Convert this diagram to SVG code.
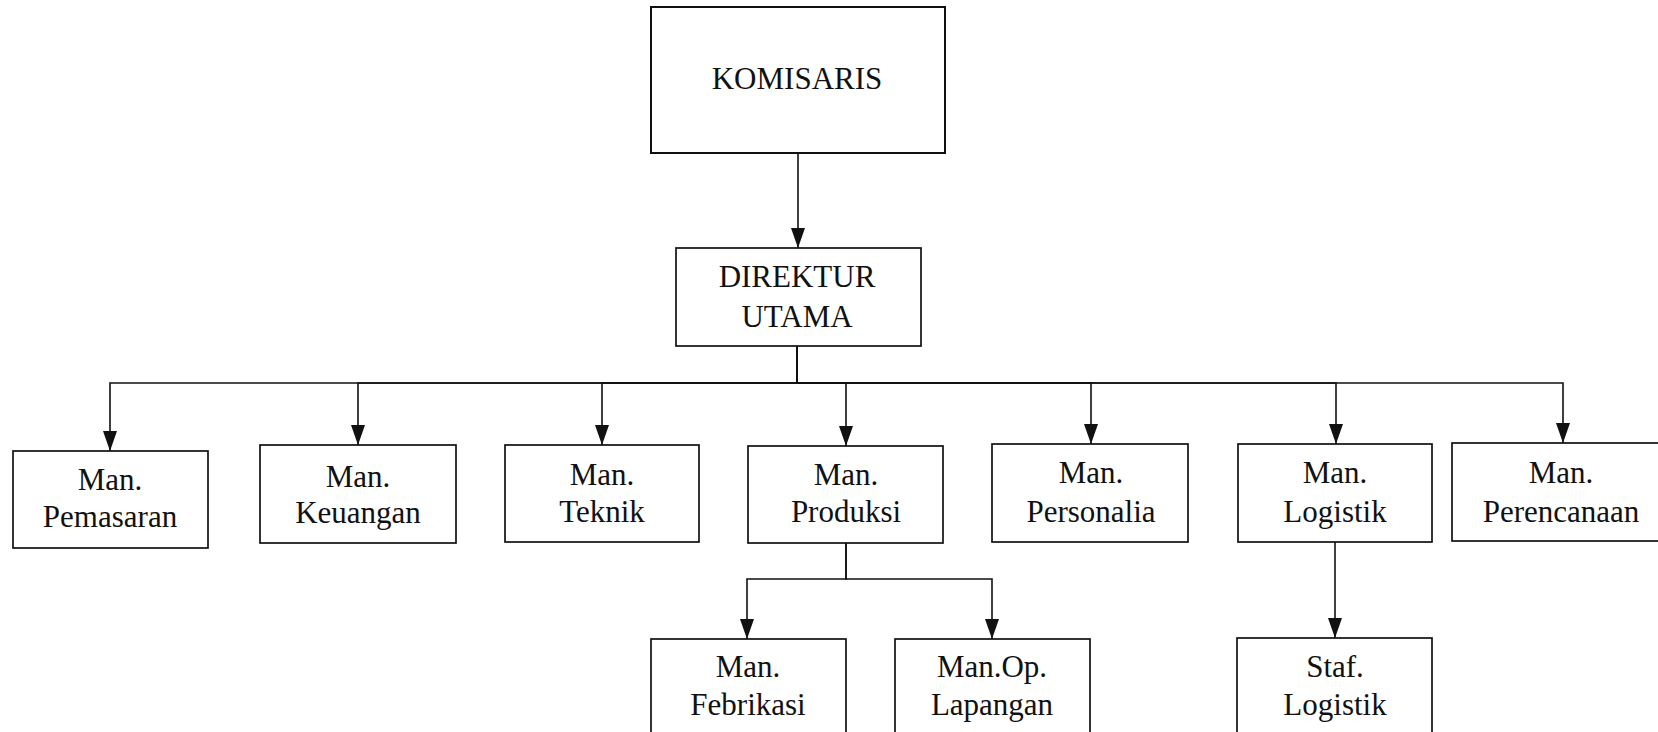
<svg xmlns="http://www.w3.org/2000/svg" width="1658" height="732" viewBox="0 0 1658 732">
<style>
  .box { fill: #ffffff; stroke: #111111; stroke-width: 1.7; }
  .t { font-family: "Liberation Serif", "Times New Roman", serif; font-size: 31px; fill: #111111; text-anchor: middle; }
  .c { fill: none; stroke: #111111; stroke-width: 1.6; }
</style>
<defs>
  <marker id="arr" viewBox="0 0 20 14" refX="20" refY="7" markerWidth="20" markerHeight="14" markerUnits="userSpaceOnUse" orient="auto">
    <path d="M0,0 L20,7 L0,14 z" fill="#111111"/>
  </marker>
</defs>
<rect width="1658" height="732" fill="#ffffff"/>

<g id="connectors">
  <path class="c" d="M798,153 V248" marker-end="url(#arr)"/>
  <path class="c" d="M797,346 V383 H110 V451" marker-end="url(#arr)"/>
  <path class="c" d="M797,346 V383 H358 V445" marker-end="url(#arr)"/>
  <path class="c" d="M797,346 V383 H602 V445" marker-end="url(#arr)"/>
  <path class="c" d="M797,346 V383 H846 V446" marker-end="url(#arr)"/>
  <path class="c" d="M797,346 V383 H1091 V444" marker-end="url(#arr)"/>
  <path class="c" d="M797,346 V383 H1336 V444" marker-end="url(#arr)"/>
  <path class="c" d="M797,346 V383 H1563 V443" marker-end="url(#arr)"/>
  <path class="c" d="M846,543 V579 H747 V639" marker-end="url(#arr)"/>
  <path class="c" d="M846,543 V579 H992 V639" marker-end="url(#arr)"/>
  <path class="c" d="M1335,542 V638" marker-end="url(#arr)"/>
</g>

<g id="komisaris">
  <rect class="box" x="651" y="7" width="294" height="146" style="stroke-width:2"/>
  <text class="t" x="797" y="89">KOMISARIS</text>
</g>
<g id="direktur-utama">
  <rect class="box" x="676" y="248" width="245" height="98"/>
  <text class="t" x="797" y="287">DIREKTUR</text>
  <text class="t" x="797" y="327">UTAMA</text>
</g>
<g id="man-pemasaran">
  <rect class="box" x="13" y="451" width="195" height="97"/>
  <text class="t" x="110" y="490">Man.</text>
  <text class="t" x="110" y="527">Pemasaran</text>
</g>
<g id="man-keuangan">
  <rect class="box" x="260" y="445" width="196" height="98"/>
  <text class="t" x="358" y="487">Man.</text>
  <text class="t" x="358" y="523">Keuangan</text>
</g>
<g id="man-teknik">
  <rect class="box" x="505" y="445" width="194" height="97"/>
  <text class="t" x="602" y="485">Man.</text>
  <text class="t" x="602" y="522">Teknik</text>
</g>
<g id="man-produksi">
  <rect class="box" x="748" y="446" width="195" height="97"/>
  <text class="t" x="846" y="485">Man.</text>
  <text class="t" x="846" y="522">Produksi</text>
</g>
<g id="man-personalia">
  <rect class="box" x="992" y="444" width="196" height="98"/>
  <text class="t" x="1091" y="483">Man.</text>
  <text class="t" x="1091" y="522">Personalia</text>
</g>
<g id="man-logistik">
  <rect class="box" x="1238" y="444" width="194" height="98"/>
  <text class="t" x="1335" y="483">Man.</text>
  <text class="t" x="1335" y="522">Logistik</text>
</g>
<g id="man-perencanaan">
  <rect class="box" x="1452" y="443" width="218" height="98"/>
  <text class="t" x="1561" y="483">Man.</text>
  <text class="t" x="1561" y="522">Perencanaan</text>
</g>
<g id="man-febrikasi">
  <rect class="box" x="651" y="639" width="195" height="110"/>
  <text class="t" x="748" y="677">Man.</text>
  <text class="t" x="748" y="715">Febrikasi</text>
</g>
<g id="man-op-lapangan">
  <rect class="box" x="895" y="639" width="195" height="110"/>
  <text class="t" x="992" y="677">Man.Op.</text>
  <text class="t" x="992" y="715">Lapangan</text>
</g>
<g id="staf-logistik">
  <rect class="box" x="1237" y="638" width="195" height="110"/>
  <text class="t" x="1335" y="677">Staf.</text>
  <text class="t" x="1335" y="715">Logistik</text>
</g>
</svg>
